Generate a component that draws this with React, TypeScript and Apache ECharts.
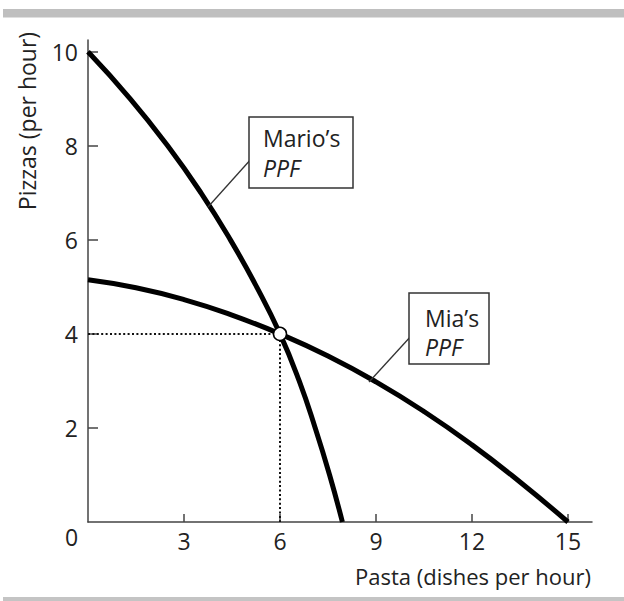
import React, { useEffect, useRef } from 'react';
import * as echarts from 'echarts';

// Mario's production possibilities frontier
const marioPasta = [0, 1.32, 2.49, 3.53, 4.45, 5.27, 6, 6.6, 7.1, 7.55, 7.95];
const marioPizza = [10, 9, 8, 7, 6, 5, 4, 3, 2, 1, 0];
// Mia's production possibilities frontier
const miaPasta = [0, 1.5, 3, 4.5, 6, 7.5, 9, 10.5, 12, 13.5, 15];
const miaPizza = [5.15, 4.98, 4.73, 4.4, 4.0, 3.53, 2.98, 2.35, 1.64, 0.85, 0];
// Dotted guide to the common point
const guidePasta = [0, 6, 6];
const guidePizza = [4, 4, 0];
const pointPasta = [6];
const pointPizza = [4];
// Ticks
const xTicks = [3, 6, 9, 12, 15];
const yTicks = [2, 4, 6, 8, 10];

const FONT = '"Open Sans", "DejaVu Sans", sans-serif';
const INK = '#222';
const AXIS = '#444';

const zip = (a: number[], b: number[]) => a.map((v, i) => [v, b[i]]);

export default function App() {
  const ref = useRef<HTMLDivElement>(null);
  useEffect(() => {
    const chart = echarts.init(ref.current!, null, { renderer: 'svg' });
    const option: any = {
      animation: false,
      backgroundColor: '#fff',
      grid: { left: 88, right: 32, top: 40, bottom: 79, containLabel: false, outerBoundsMode: 'none' },
      xAxis: {
        type: 'value',
        min: 0,
        max: 15.75,
        interval: 3,
        splitLine: { show: false },
        axisLine: { lineStyle: { color: AXIS, width: 1.5 } },
        axisTick: { show: true, inside: true, length: 8, customValues: xTicks, lineStyle: { color: AXIS, width: 1.5 } },
        axisLabel: { customValues: xTicks, margin: 7, color: INK, fontSize: 23, fontFamily: FONT },
      },
      yAxis: {
        type: 'value',
        min: 0,
        max: 10.25,
        interval: 2,
        splitLine: { show: false },
        axisLine: { lineStyle: { color: AXIS, width: 1.5 } },
        axisTick: { show: true, inside: true, length: 10, customValues: yTicks, lineStyle: { color: AXIS, width: 1.5 } },
        axisLabel: { customValues: yTicks, margin: 10, color: INK, fontSize: 23, fontFamily: FONT },
      },
      series: [
        {
          type: 'line',
          data: zip(guidePasta, guidePizza),
          showSymbol: false,
          lineStyle: { color: '#111', width: 2, type: [2, 2.4] },
          z: 1,
        },
        {
          type: 'line',
          data: zip(marioPasta, marioPizza),
          showSymbol: false,
          smooth: 0.5,
          lineStyle: { color: '#000', width: 5 },
          z: 2,
        },
        {
          type: 'line',
          data: zip(miaPasta, miaPizza),
          showSymbol: false,
          smooth: 0.5,
          lineStyle: { color: '#000', width: 5 },
          z: 2,
        },
        {
          type: 'scatter',
          data: zip(pointPasta, pointPizza),
          symbol: 'circle',
          symbolSize: 13,
          itemStyle: { color: '#fff', borderColor: '#000', borderWidth: 1.5, opacity: 1 },
          z: 5,
        },
      ],
      graphic: [
        { type: 'rect', shape: { x: 3, y: 9, width: 621, height: 8.5 }, style: { fill: '#bfbfbf' }, z: 10 },
        { type: 'rect', shape: { x: 3, y: 597, width: 621, height: 4 }, style: { fill: '#c4c4c4' }, z: 10 },
        {
          type: 'text', x: 71.7, y: 537,
          style: { text: '0', fill: INK, font: `23px ${FONT}`, align: 'center', verticalAlign: 'middle' },
        },
        {
          type: 'text', x: 591, y: 576,
          style: { text: 'Pasta (dishes per hour)', fill: INK, font: `22px ${FONT}`, align: 'right', verticalAlign: 'middle' },
        },
        {
          type: 'text', x: 27, y: 121, rotation: Math.PI / 2,
          style: { text: 'Pizzas (per hour)', fill: INK, font: `23px ${FONT}`, align: 'center', verticalAlign: 'middle' },
        },
        // Mario's label
        { type: 'line', shape: { x1: 252, y1: 158, x2: 208, y2: 207 }, style: { stroke: '#333', lineWidth: 1.3 }, z: 10 },
        { type: 'rect', shape: { x: 249, y: 117, width: 104, height: 71 }, style: { fill: '#fff', stroke: '#333', lineWidth: 1.5 }, z: 10 },
        {
          type: 'text', x: 263, y: 137.5, z: 11,
          style: { text: 'Mario’s', fill: INK, font: `23px ${FONT}`, align: 'left', verticalAlign: 'middle' },
        },
        {
          type: 'text', x: 263, y: 168, z: 11,
          style: { text: 'PPF', fill: INK, font: `italic 23px ${FONT}`, align: 'left', verticalAlign: 'middle' },
        },
        // Mia's label
        { type: 'line', shape: { x1: 412, y1: 335, x2: 369, y2: 382 }, style: { stroke: '#333', lineWidth: 1.3 }, z: 10 },
        { type: 'rect', shape: { x: 409, y: 293, width: 80, height: 71 }, style: { fill: '#fff', stroke: '#333', lineWidth: 1.5 }, z: 10 },
        {
          type: 'text', x: 425, y: 317.5, z: 11,
          style: { text: 'Mia’s', fill: INK, font: `23px ${FONT}`, align: 'left', verticalAlign: 'middle' },
        },
        {
          type: 'text', x: 425, y: 346.5, z: 11,
          style: { text: 'PPF', fill: INK, font: `italic 23px ${FONT}`, align: 'left', verticalAlign: 'middle' },
        },
      ],
    };
    chart.setOption(option);
    return () => chart.dispose();
  }, []);
  return (
    <div
      ref={ref}
      style={{ position: 'fixed', left: 0, top: 0, width: 624, height: 601, background: '#fff' }}
    />
  );
}
